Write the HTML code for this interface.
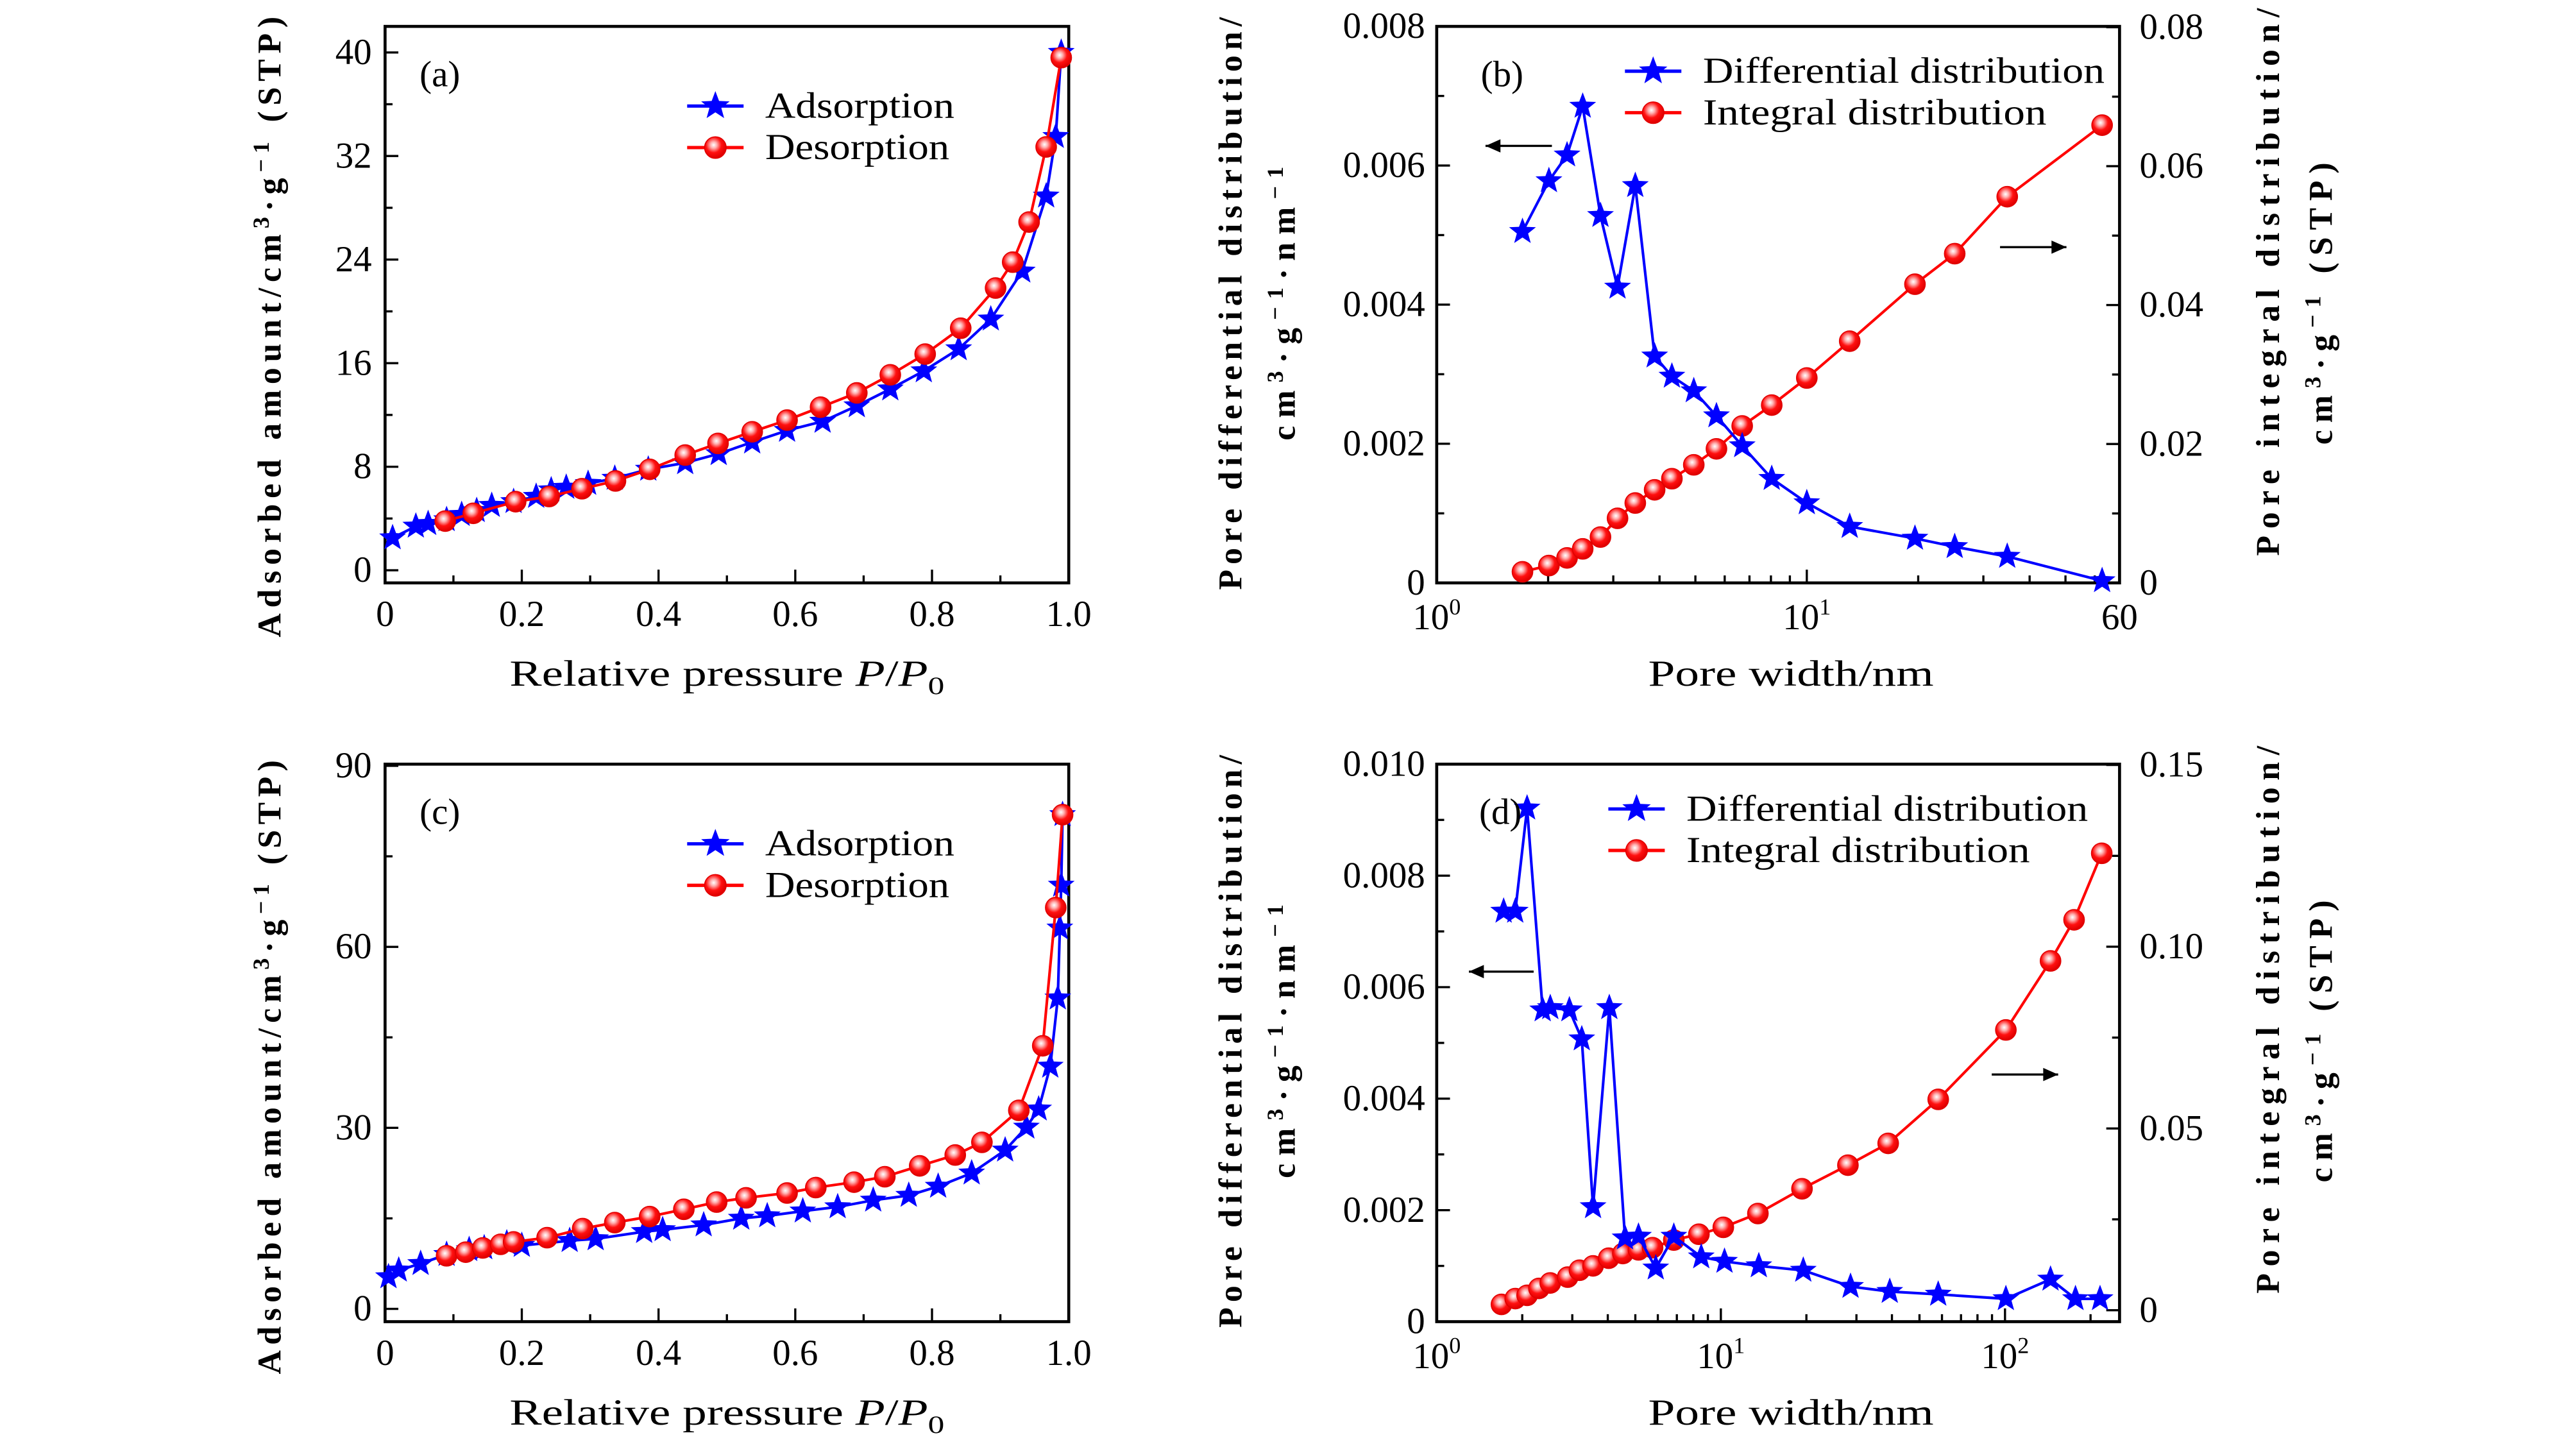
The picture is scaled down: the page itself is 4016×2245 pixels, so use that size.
<!DOCTYPE html>
<html><head><meta charset="utf-8"><style>
html,body{margin:0;padding:0;background:#fff;}
svg{display:block;}
text{font-family:"Liberation Serif","DejaVu Serif",serif;fill:#000;}
</style></head><body>
<svg id="fig" width="4016" height="2245" viewBox="0 0 1552 867.6" preserveAspectRatio="none" xmlns="http://www.w3.org/2000/svg">
<defs>
<radialGradient id="ball" cx="0.42" cy="0.38" r="0.6">
<stop offset="0" stop-color="#fff"/><stop offset="0.25" stop-color="#ffb0b0"/><stop offset="0.6" stop-color="#ff1010"/><stop offset="1" stop-color="#e00000"/>
</radialGradient>
</defs>
</svg>
<script>
// ---- Panel (a) data ----
const aAdsX=[0.011,0.045,0.063,0.09,0.112,0.134,0.156,0.188,0.221,0.243,0.265,0.297,0.336,0.385,0.439,0.488,0.537,0.588,0.64,0.69,0.739,0.788,0.839,0.886,0.932,0.967,0.981,0.989];
const aAdsY=[2.5,3.4,3.6,3.9,4.3,4.6,5.0,5.3,5.7,6.2,6.4,6.7,7.1,7.8,8.3,9.0,9.9,10.8,11.5,12.7,14.0,15.4,17.1,19.4,23.1,28.9,33.5,40.0];
const aDesX=[0.088,0.129,0.191,0.240,0.288,0.337,0.387,0.439,0.487,0.537,0.588,0.637,0.690,0.739,0.790,0.842,0.893,0.918,0.942,0.967,0.989];
const aDesY=[3.8,4.4,5.3,5.7,6.3,6.9,7.8,8.9,9.8,10.7,11.6,12.6,13.7,15.1,16.7,18.7,21.8,23.8,26.9,32.7,39.6];
const aYTicks=[0,8,16,24,32,40];
const pXTicks=[0,0.2,0.4,0.6,0.8,1.0];
const pXLabels=['0','0.2','0.4','0.6','0.8','1.0'];
// ---- Panel (c) data ----
const cAdsX=[0.005,0.02,0.052,0.09,0.123,0.145,0.178,0.2,0.27,0.308,0.379,0.406,0.466,0.521,0.559,0.611,0.662,0.714,0.766,0.809,0.858,0.907,0.938,0.956,0.973,0.984,0.987,0.989,0.991];
const cAdsY=[5.3,6.4,7.5,9.0,9.8,10.1,10.9,10.5,11.3,11.6,12.8,13.1,13.9,15.0,15.4,16.2,16.9,18.0,18.8,20.3,22.5,26.3,30.1,33.1,40.2,51.5,63.1,70.2,81.9];
const cDesX=[0.09,0.118,0.143,0.169,0.188,0.237,0.289,0.336,0.387,0.437,0.485,0.528,0.588,0.63,0.686,0.731,0.782,0.834,0.873,0.927,0.962,0.981,0.991];
const cDesY=[8.8,9.4,10.1,10.7,11.1,11.8,13.3,14.3,15.3,16.5,17.7,18.4,19.2,20.1,21.0,21.9,23.7,25.5,27.6,32.9,43.6,66.5,81.9];
const cYTicks=[0,30,60,90];
// ---- Panel (b) data ----
const bX=[1.705,2.01,2.25,2.48,2.77,3.08,3.44,3.88,4.32,4.95,5.70,6.69,8.04,10.0,13.06,19.6,25.1,34.8,62.8];
const bDiff=[0.00505,0.00578,0.00615,0.00685,0.00528,0.00425,0.00571,0.00326,0.00297,0.00276,0.0024,0.00197,0.0015,0.00115,0.00081,0.00064,0.00052,0.00038,0.00003];
const bInt=[0.0016,0.0025,0.0036,0.0049,0.0066,0.0093,0.0115,0.0134,0.0150,0.0170,0.0193,0.0226,0.0256,0.0295,0.0348,0.0430,0.0474,0.0556,0.0659];
const bLTicks=[0,0.002,0.004,0.006,0.008];
const bLLabels=['0','0.002','0.004','0.006','0.008'];
const bRTicks=[0,0.02,0.04,0.06,0.08];
const bRLabels=['0','0.02','0.04','0.06','0.08'];
// ---- Panel (d) data ----
const dDX=[1.72,1.89,2.08,2.36,2.51,2.93,3.24,3.55,4.05,4.6,5.13,5.9,6.83,8.53,10.3,13.6,19.5,28.6,39.3,58.2,100.7,144.6,177,216];
const dDiff=[0.00736,0.00736,0.00921,0.00559,0.00563,0.00559,0.00507,0.00206,0.00563,0.0015,0.00153,0.00096,0.00153,0.00116,0.00108,0.001,0.00092,0.00063,0.00054,0.00049,0.00041,0.00076,0.00041,0.00041];
const dIX=[1.69,1.89,2.08,2.29,2.51,2.89,3.18,3.55,4.03,4.52,5.13,5.75,6.83,8.37,10.2,13.5,19.3,28.0,38.8,58.2,100.7,144.6,175,219];
const dInt=[0.0016,0.0032,0.0041,0.006,0.0075,0.0091,0.011,0.0122,0.0143,0.0156,0.0166,0.0172,0.0193,0.0209,0.0228,0.0266,0.0334,0.0399,0.0459,0.058,0.0771,0.0961,0.1074,0.1257];
const dLTicks=[0,0.002,0.004,0.006,0.008,0.010];
const dLLabels=['0','0.002','0.004','0.006','0.008','0.010'];
const dRTicks=[0,0.05,0.10,0.15];
const dRLabels=['0','0.05','0.10','0.15'];

const NS='http://www.w3.org/2000/svg';
const svg=document.getElementById('fig');
const TK=22;
function mk(tag,attrs,parent){const e=document.createElementNS(NS,tag);for(const k in attrs)e.setAttribute(k,attrs[k]);(parent||svg).appendChild(e);return e;}
function lin(d0,d1,p0,p1){return v=>p0+(v-d0)/(d1-d0)*(p1-p0);}
function logs(d0,d1,p0,p1){return v=>p0+(Math.log10(v)-Math.log10(d0))/(Math.log10(d1)-Math.log10(d0))*(p1-p0);}
function starPath(cx,cy,R){const r=R*0.42;let s='';for(let i=0;i<10;i++){const a=-Math.PI/2+i*Math.PI/5;const rr=i%2?r:R;s+=(i?'L':'M')+(cx+rr*Math.cos(a)).toFixed(2)+','+(cy+rr*Math.sin(a)).toFixed(2);}return s+'Z';}
function series(g,xs,ys,sx,sy,kind,name){
  const pts=xs.map((x,i)=>sx(x).toFixed(2)+','+sy(ys[i]).toFixed(2)).join(' ');
  const pl=mk('polyline',{points:pts,fill:'none',stroke:kind==='star'?'#0000ff':'#ff0000','stroke-width':1.6},g);
  
  
  xs.forEach((x,i)=>{
    let m;
    if(kind==='star'){m=mk('path',{d:starPath(sx(x),sy(ys[i]),8.5),fill:'#0000ff'},g);}
    else{m=mk('circle',{cx:sx(x),cy:sy(ys[i]),r:6.2,fill:'url(#ball)',stroke:'#e00000','stroke-width':0.6},g);}
    
    
  });
}
function txt(g,x,y,s,size,anchor,name,extra){const t=mk('text',Object.assign({x:x,y:y,'font-size':size,'text-anchor':anchor||'middle'},extra||{}),g);t.innerHTML=s;return t;}
function box(g,x0,y0,x1,y1){const r=mk('rect',{x:x0,y:y0,width:x1-x0,height:y1-y0,fill:'none',stroke:'#000','stroke-width':1.8},g);}
function tick(g,x1,y1,x2,y2){mk('line',{x1:x1,y1:y1,x2:x2,y2:y2,stroke:'#000','stroke-width':1.3},g);}
function legend(g,x,y,label,kind,name,len){
  const lg=mk('g',{},g);
  mk('line',{x1:x,y1:y,x2:x+34,y2:y,stroke:kind==='star'?'#0000ff':'#ff0000','stroke-width':2},lg);
  if(kind==='star')mk('path',{d:starPath(x+17,y,9),fill:'#0000ff'},lg);else mk('circle',{cx:x+17,cy:y,r:6.5,fill:'url(#ball)',stroke:'#e00000','stroke-width':0.6},lg);
  txt(lg,x+47,y+7,label,22,'start',name+'-text',{textLength:len,lengthAdjust:'spacingAndGlyphs'});
}
function arrow(g,x1,x2,y,name){const a=mk('g',{},g);
  mk('line',{x1:x1,y1:y,x2:x2,y2:y,stroke:'#000','stroke-width':1.3},a);
  const d=x2>x1?1:-1;mk('path',{d:`M${x2},${y} L${x2-d*9},${y-4} L${x2-d*9},${y+4} Z`,fill:'#000'},a);}

// ===== isotherm panels (a) and (c) =====
function isoPanel(id,top,bot,ymin,ymax,y0px,ymaxpx,yTicks,minorStep,adsX,adsY,desX,desY,label,ylabelCenter,ylabelLen){
  const g=mk('g',{});
  const L=232,R=643.9;
  const sx=lin(0,1,L,R), sy=lin(ymin,ymax,y0px,ymaxpx);
  box(g,L,top,R,bot);
  pXTicks.forEach((v,i)=>{tick(g,sx(v),bot,sx(v),bot-8);txt(g,sx(v),bot+26,pXLabels[i],TK,'middle','x-tick-label');});
  for(let v=0.1;v<1;v+=0.2)tick(g,sx(v),bot,sx(v),bot-4.5);
  yTicks.forEach(v=>{tick(g,L,sy(v),L+8,sy(v));txt(g,L-8,sy(v)+7,String(v),TK,'end','y-tick-label');});
  for(let v=minorStep;v<yTicks[yTicks.length-1];v+=minorStep*2)tick(g,L,sy(v),L+4.5,sy(v));
  series(g,adsX,adsY,sx,sy,'star','adsorption');
  series(g,desX,desY,sx,sy,'circle','desorption');
  txt(g,265,top+36,'('+id+')',22,'middle','panel-label');
  legend(g,414,top+48,'Adsorption','star','legend-adsorption',114);
  legend(g,414,top+73,'Desorption','circle','legend-desorption',111);
  txt(g,438,bot+62,'Relative pressure <tspan font-style="italic">P</tspan>/<tspan font-style="italic">P</tspan><tspan font-size="15" dy="5">0</tspan>',22,'middle','x-axis-title',{textLength:262,lengthAdjust:'spacingAndGlyphs'});
  txt(g,0,0,'Adsorbed amount/cm<tspan font-size="14" dy="-7">3</tspan><tspan dy="7">·g</tspan><tspan font-size="14" dy="-7">−1</tspan><tspan dy="7"> (STP)</tspan>',20,'middle','y-axis-title',{transform:`translate(169,${ylabelCenter}) rotate(-90)`,textLength:ylabelLen,lengthAdjust:'spacing','font-weight':'bold'});
}
isoPanel('a',15.9,351.2,0,40,343.6,31.6,aYTicks,4,aAdsX,aAdsY,aDesX,aDesY,'a',197,374);
isoPanel('c',460.4,796.3,0,90,788.6,461.4,cYTicks,15,cAdsX,cAdsY,cDesX,cDesY,'c',643,370);

// ===== pore distribution panels (b) and (d) =====
function porePanel(id,top,bot,xmax,xTicks,xLabels,lMax,lTicks,lLabels,lMinor,rZeroPx,rMaxV,rMaxPx,rTicks,rLabels,rMinor,dx,dy,ix,iy,legY,arrL,arrR,labX,legX){
  const g=mk('g',{});
  const L=865.6,R=1277;
  const sx=logs(1,xmax,L,R);
  const syL=lin(0,lMax,bot,top);
  const syR=lin(0,rMaxV,rZeroPx,rMaxPx);
  box(g,L,top,R,bot);
  for(let dec=1;dec<xmax;dec*=10){for(let k=1;k<10;k++){const v=dec*k;if(v>=xmax)break;if(v<=1&&k===1)continue;tick(g,sx(v),bot,sx(v),bot-(k===1?8:4.5));}}
  xTicks.forEach((v,i)=>txt(g,sx(v),bot+28,xLabels[i],TK,'middle','x-tick-label'));
  lTicks.forEach((v,i)=>{tick(g,L,syL(v),L+8,syL(v));txt(g,L-7,syL(v)+7,lLabels[i],TK,'end','left-y-tick-label');});
  for(let v=lMinor;v<lMax;v+=lMinor*2)tick(g,L,syL(v),L+4.5,syL(v));
  rTicks.forEach((v,i)=>{tick(g,R,syR(v),R-8,syR(v));txt(g,R+12,syR(v)+7,rLabels[i],TK,'start','right-y-tick-label');});
  for(let v=rMinor;v<rMaxV;v+=rMinor*2)tick(g,R,syR(v),R-4.5,syR(v));
  series(g,ix,iy,sx,syR,'circle','integral-distribution');
  series(g,dx,dy,sx,syL,'star','differential-distribution');
  txt(g,labX,top+36,'('+id+')',22,'middle','panel-label');
  legend(g,legX,top+27,'Differential distribution','star','legend-differential',242);
  legend(g,legX,top+52,'Integral distribution','circle','legend-integral',207);
  arrow(g,arrL[0],arrL[1],top+arrL[2],'left-axis-arrow');
  arrow(g,arrR[0],arrR[1],top+arrR[2],'right-axis-arrow');
  txt(g,1079,bot+62,'Pore width/nm',22,'middle','x-axis-title',{textLength:172,lengthAdjust:'spacingAndGlyphs'});
  const c=top+167;
  txt(g,0,0,'Pore differential distribution/',20,'middle','left-y-axis-title',{transform:`translate(748,${c}) rotate(-90)`,textLength:345,lengthAdjust:'spacing','font-weight':'bold'});
  txt(g,0,0,'cm<tspan font-size="14" dy="-7">3</tspan><tspan dy="7">·g</tspan><tspan font-size="14" dy="-7">−1</tspan><tspan dy="7">·nm</tspan><tspan font-size="14" dy="-7">−1</tspan>',20,'middle','left-y-axis-subtitle',{transform:`translate(780,${c}) rotate(-90)`,'font-weight':'bold',textLength:165,lengthAdjust:'spacing'});
  txt(g,0,0,'Pore integral distribution/',20,'middle','right-y-axis-title',{transform:`translate(1373,${top+154}) rotate(-90)`,textLength:330,lengthAdjust:'spacing','font-weight':'bold'});
  txt(g,0,0,'cm<tspan font-size="14" dy="-7">3</tspan><tspan dy="7">·g</tspan><tspan font-size="14" dy="-7">−1</tspan><tspan dy="7"> (STP)</tspan>',20,'middle','right-y-axis-subtitle',{transform:`translate(1405,${c}) rotate(-90)`,'font-weight':'bold',textLength:170,lengthAdjust:'spacing'});
}
porePanel('b',15.9,351.2,70,[1,10,70],['10<tspan font-size="14" dy="-9">0</tspan>','10<tspan font-size="14" dy="-9">1</tspan>','60'],
  0.008,bLTicks,bLLabels,0.001,351.2,0.08,16.4,bRTicks,bRLabels,0.01,
  bX,bDiff,bX,bInt,0,[935,895,72],[1205,1245,133],905,979);
porePanel('d',460.4,796.3,253,[1,10,100],['10<tspan font-size="14" dy="-9">0</tspan>','10<tspan font-size="14" dy="-9">1</tspan>','10<tspan font-size="14" dy="-9">2</tspan>'],
  0.010,dLTicks,dLLabels,0.001,789.4,0.15,460.9,dRTicks,dRLabels,0.025,
  dDX,dDiff,dIX,dInt,0,[924,885,125],[1200,1240,187],904,969);
</script>
</body></html>
